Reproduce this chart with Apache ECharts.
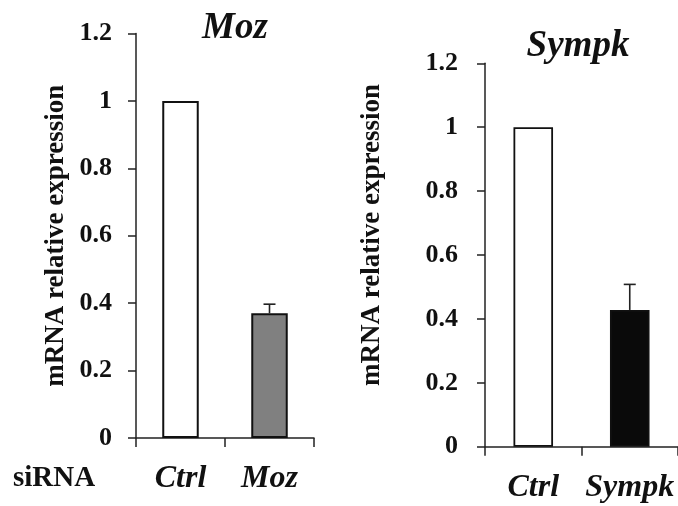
<!DOCTYPE html>
<html>
<head>
<meta charset="utf-8">
<script src="https://cdn.jsdelivr.net/npm/echarts@6/dist/echarts.min.js"></script>
<style>
  html, body { margin: 0; padding: 0; background: #fff; }
  #chart { width: 678px; height: 506px; }
</style>
</head>
<body>
<div id="chart"></div>
<script>
const mozCategories = ['Ctrl', 'Moz']
const mozValues = [1, 0.37]
const mozErrors = [0, 0.027]
const mozColors = ['#ffffff', '#808080']

const sympkCategories = ['Ctrl', 'Sympk']
const sympkValues = [1, 0.428]
const sympkErrors = [0, 0.08]
const sympkColors = ['#ffffff', '#0a0a0a']

const yTickLabels = ['0', '0.2', '0.4', '0.6', '0.8', '1', '1.2']

const serif = 'Liberation Serif'

const barData = (values, colors) =>
  values.map((v, i) => ({ value: v, itemStyle: { color: colors[i] } }))

const errData = (values, errors) =>
  values.map((v, i) => [i, v, errors[i]])

const renderError = (params, api) => {
  const err = api.value(2)
  if (!err) return null
  const base = api.coord([api.value(0), api.value(1)])
  const top = api.coord([api.value(0), api.value(1) + err])
  const half = 6
  const style = { stroke: '#222', lineWidth: 1.6 }
  return {
    type: 'group',
    children: [
      { type: 'line', shape: { x1: base[0], y1: base[1], x2: top[0], y2: top[1] }, style },
      { type: 'line', shape: { x1: top[0] - half, y1: top[1], x2: top[0] + half, y2: top[1] }, style }
    ]
  }
}

const axisLine = { lineStyle: { color: '#222', width: 1.5 } }

const yAxisCommon = {
  type: 'value',
  min: 0,
  max: 1.2,
  interval: 0.2,
  splitLine: { show: false },
  axisLine: { show: true, ...axisLine },
  axisTick: { show: true, length: 8, lineStyle: { color: '#222', width: 1.5 } },
  name: 'mRNA relative expression',
  nameLocation: 'middle',
  nameRotate: 90,
  nameTextStyle: { fontFamily: serif, fontWeight: 'bold', fontSize: 27, color: '#111' }
}

const xAxisCommon = {
  type: 'category',
  axisLine: axisLine,
  axisTick: { show: true, length: 9, alignWithLabel: false, lineStyle: { color: '#222', width: 1.5 } },
  axisLabel: {
    interval: 0,
    margin: 25,
    fontFamily: serif,
    fontStyle: 'italic',
    fontWeight: 'bold',
    fontSize: 32,
    color: '#111'
  }
}

const yLabel = margin => ({
  margin,
  fontFamily: serif,
  fontWeight: 'bold',
  fontSize: 26,
  color: '#111',
  formatter: (v, i) => yTickLabels[i]
})

const chart = echarts.init(document.getElementById('chart'), null, { renderer: 'canvas' })

const option = {
  backgroundColor: '#fff',
  animation: false,
  title: [
    {
      text: 'Moz',
      left: 230,
      top: 5,
      textAlign: 'center',
      textStyle: { fontFamily: serif, fontStyle: 'italic', fontWeight: 'bold', fontSize: 37, color: '#111' }
    },
    {
      text: 'Sympk',
      left: 573,
      top: 23,
      textAlign: 'center',
      textStyle: { fontFamily: serif, fontStyle: 'italic', fontWeight: 'bold', fontSize: 37, color: '#111' }
    }
  ],
  graphic: [
    {
      type: 'text',
      left: 13,
      top: 464,
      style: { text: 'siRNA', font: 'bold 29px ' + serif, fill: '#111' }
    }
  ],
  grid: [
    { left: 136, top: 33.5, width: 178, height: 404.5 },
    { left: 485, top: 63.3, width: 194, height: 383.4 }
  ],
  xAxis: [
    { ...xAxisCommon, gridIndex: 0, data: mozCategories },
    { ...xAxisCommon, gridIndex: 1, data: sympkCategories }
  ],
  yAxis: [
    { ...yAxisCommon, gridIndex: 0, nameGap: 66, axisLabel: yLabel(24) },
    {
      ...yAxisCommon,
      gridIndex: 1,
      nameGap: 99,
      axisLabel: yLabel(27),
      nameTextStyle: { ...yAxisCommon.nameTextStyle, padding: [0, 0, 0, 40] }
    }
  ],
  series: [
    {
      type: 'bar',
      xAxisIndex: 0,
      yAxisIndex: 0,
      barWidth: '41%',
      data: barData(mozValues, mozColors),
      itemStyle: { borderColor: '#111', borderWidth: 2 }
    },
    {
      type: 'custom',
      xAxisIndex: 0,
      yAxisIndex: 0,
      renderItem: renderError,
      data: errData(mozValues, mozErrors),
      z: 1
    },
    {
      type: 'bar',
      xAxisIndex: 1,
      yAxisIndex: 1,
      barWidth: '41%',
      data: barData(sympkValues, sympkColors),
      itemStyle: { borderColor: '#111', borderWidth: 1.8 }
    },
    {
      type: 'custom',
      xAxisIndex: 1,
      yAxisIndex: 1,
      renderItem: renderError,
      data: errData(sympkValues, sympkErrors),
      z: 1
    }
  ]
}

chart.setOption(option)
</script>
</body>
</html>
